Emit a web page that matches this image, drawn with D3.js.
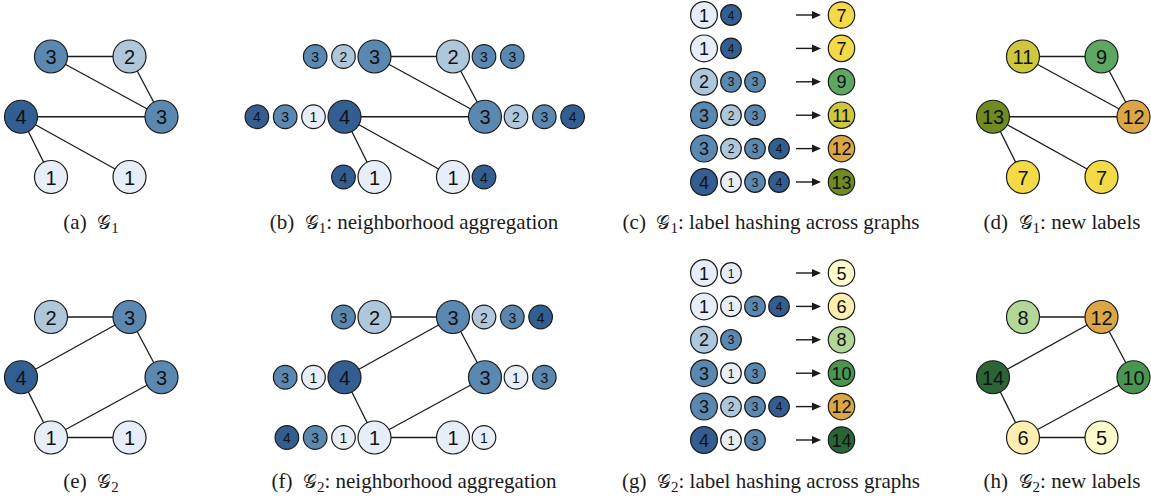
<!DOCTYPE html>
<html>
<head>
<meta charset="utf-8">
<script src="https://cdn.jsdelivr.net/npm/d3@7"></script>
<style>
  html, body { margin: 0; padding: 0; background: #fff; }
  svg { display: block; }
</style>
</head>
<body>
<svg id="fig" width="1151" height="499"></svg>
<script>
// ---- Graph G1 ----
const g1Labels = [3, 2, 4, 3, 1, 1];
const g1Slots = [[1, 0], [2, 0], [0, 1], [3, 1], [1, 2], [2, 2]];
const g1Edges = [[0, 1], [0, 3], [1, 3], [2, 3], [2, 4], [2, 5]];
const g1Neighbors = [[2, 3], [3, 3], [1, 3, 4], [2, 3, 4], [4], [4]];
const g1NewLabels = [11, 9, 13, 12, 7, 7];

// ---- Graph G2 ----
const g2Labels = [2, 3, 4, 3, 1, 1];
const g2Slots = [[1, 0], [2, 0], [0, 1], [3, 1], [1, 2], [2, 2]];
const g2Edges = [[0, 1], [1, 2], [1, 3], [2, 4], [3, 4], [4, 5]];
const g2Neighbors = [[3], [2, 3, 4], [1, 3], [1, 3], [1, 3, 4], [1]];
const g2NewLabels = [8, 12, 14, 10, 6, 5];

// ---- Hashing tables (own label, sorted neighbor multiset, compressed label) ----
const h1Own = [1, 1, 2, 3, 3, 4];
const h1Nbrs = [[4], [4], [3, 3], [2, 3], [2, 3, 4], [1, 3, 4]];
const h1Out = [7, 7, 9, 11, 12, 13];
const h2Own = [1, 1, 2, 3, 3, 4];
const h2Nbrs = [[1], [1, 3, 4], [3], [1, 3], [2, 3, 4], [1, 3]];
const h2Out = [5, 6, 8, 10, 12, 14];

// ---- Captions ----
const captionTags = ["(a)", "(b)", "(c)", "(d)", "(e)", "(f)", "(g)", "(h)"];
const captionTexts = ["", ": neighborhood aggregation", ": label hashing across graphs", ": new labels"];

// colour scales
const baseColor = d3.scaleOrdinal()
  .domain([1, 2, 3, 4])
  .range(["#e7eef7", "#afc7db", "#5b88b0", "#335e91"]);
const newColor = d3.scaleOrdinal()
  .domain([5, 6, 7, 8, 9, 10, 11, 12, 13, 14])
  .range(["#fbfbcb", "#fdefb1", "#f3da46", "#b3d798", "#5ea762", "#4a9651", "#cfc73d", "#dba746", "#6f8b22", "#2b6536"]);

// layout scales for graph slots
const colX = d3.scaleOrdinal().domain([0, 1, 2, 3]).range([0, 30, 108.5, 140.5]);
const rowY = d3.scaleLinear().domain([0, 2]).range([0, 120.5]);

const svg = d3.select("#fig");
const STROKE = "#1b1b1b";
const SANS = "'Liberation Sans', Arial, Helvetica, sans-serif";
const SERIF = "'Liberation Serif', 'Times New Roman', Times, serif";

function circleNode(g, x, y, r, fill, label, fontSize) {
  g.append("circle")
    .attr("cx", x).attr("cy", y).attr("r", r)
    .attr("fill", fill).attr("stroke", STROKE).attr("stroke-width", 1.2);
  g.append("text")
    .attr("x", x).attr("y", y + 0.5)
    .attr("text-anchor", "middle")
    .attr("dominant-baseline", "central")
    .attr("font-family", SANS)
    .attr("font-size", fontSize)
    .attr("fill", "#111")
    .text(label);
}

function drawGraph(x0, y0, slots, edges, labels, colorScale, neighbors) {
  const g = svg.append("g").attr("transform", `translate(${x0},${y0})`);
  const pos = slots.map(([c, r]) => [colX(c), rowY(r)]);
  g.selectAll("line.edge").data(edges).join("line")
    .attr("class", "edge")
    .attr("x1", d => pos[d[0]][0]).attr("y1", d => pos[d[0]][1])
    .attr("x2", d => pos[d[1]][0]).attr("y2", d => pos[d[1]][1])
    .attr("stroke", STROKE).attr("stroke-width", 1.3);
  const R = 16.5;
  if (neighbors) {
    // aggregated neighbor labels, placed outward from each node
    const r = 11.8, pitch = 28.3, gap = 31;
    neighbors.forEach((list, i) => {
      const dir = slots[i][0] <= 1 ? -1 : 1;
      list.forEach((lab, k) => {
        circleNode(g, pos[i][0] + dir * (gap + k * pitch), pos[i][1], r, baseColor(lab), lab, 14);
      });
    });
  }
  labels.forEach((lab, i) => {
    circleNode(g, pos[i][0], pos[i][1], R, colorScale(lab), lab, 20);
  });
}

function drawHash(y0, y1, own, nbrs, out) {
  const g = svg.append("g");
  const y = d3.scaleLinear().domain([0, own.length - 1]).range([y0, y1]);
  const xOwn = 704, xNbr0 = 731, nbrPitch = 24, xArrow0 = 796, xArrow1 = 821, xOut = 841.5;
  own.forEach((lab, i) => {
    const cy = y(i);
    nbrs[i].forEach((n, k) => circleNode(g, xNbr0 + k * nbrPitch, cy, 10.3, baseColor(n), n, 12));
    circleNode(g, xOwn, cy, 13.4, baseColor(lab), lab, 18);
    g.append("line").attr("x1", xArrow0).attr("y1", cy).attr("x2", xArrow1 - 8).attr("y2", cy)
      .attr("stroke", STROKE).attr("stroke-width", 1.4);
    g.append("path")
      .attr("d", `M${xArrow1},${cy} L${xArrow1 - 9},${cy - 4} L${xArrow1 - 9},${cy + 4} Z`)
      .attr("fill", STROKE);
    circleNode(g, xOut, cy, 13.2, newColor(out[i]), out[i], 18);
  });
}

// top row: G1
drawGraph(21, 56.5, g1Slots, g1Edges, g1Labels, baseColor, null);
drawGraph(344.5, 56.5, g1Slots, g1Edges, g1Labels, baseColor, g1Neighbors);
drawHash(15, 182, h1Own, h1Nbrs, h1Out);
drawGraph(993, 56.5, g1Slots, g1Edges, g1NewLabels, newColor, null);

// bottom row: G2
drawGraph(21, 317, g2Slots, g2Edges, g2Labels, baseColor, null);
drawGraph(344.5, 317, g2Slots, g2Edges, g2Labels, baseColor, g2Neighbors);
drawHash(273, 440, h2Own, h2Nbrs, h2Out);
drawGraph(993, 317, g2Slots, g2Edges, g2NewLabels, newColor, null);

// captions
const capX = [91, 414, 771, 1062];
const capY = [229, 488];
captionTags.forEach((tag, i) => {
  const row = Math.floor(i / 4), col = i % 4;
  const t = svg.append("text")
    .attr("x", capX[col]).attr("y", capY[row])
    .attr("text-anchor", "middle")
    .attr("font-family", SERIF)
    .attr("font-size", 21)
    .attr("fill", "#1a1a1a");
  t.append("tspan").text(tag + "\u2002");
  t.append("tspan")
    .attr("font-family", "'DejaVu Serif', 'Liberation Serif', serif")
    .attr("font-size", 18.5)
    .text("\u{1D4A2}");
  t.append("tspan").attr("dy", 3.5).attr("font-size", 15).text(String(row + 1));
  t.append("tspan").attr("dy", -3.5).text(captionTexts[col]);
});
</script>
</body>
</html>
